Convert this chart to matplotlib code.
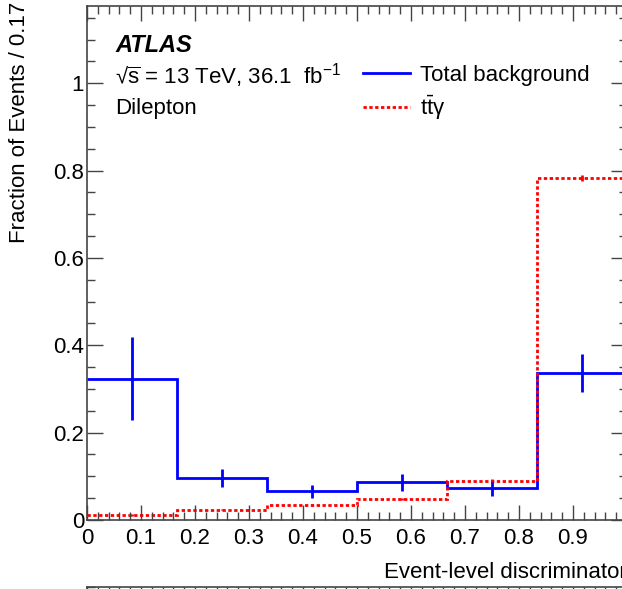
import numpy as np
import matplotlib
matplotlib.use("Agg")
import matplotlib.pyplot as plt
from matplotlib.ticker import MultipleLocator, FixedLocator, FixedFormatter

# ---- data ----
edges = np.linspace(0, 1, 7)
bkg = [0.324, 0.096, 0.066, 0.086, 0.073, 0.336]
bkg_err = [0.094, 0.020, 0.015, 0.020, 0.018, 0.044]
sig = [0.012, 0.024, 0.034, 0.048, 0.090, 0.783]
sig_err = [0.002, 0.002, 0.002, 0.003, 0.004, 0.006]
xticks = [0, 0.1, 0.2, 0.3, 0.4, 0.5, 0.6, 0.7, 0.8, 0.9]
xticklabels = ["0", "0.1", "0.2", "0.3", "0.4", "0.5", "0.6", "0.7", "0.8", "0.9"]
yticks = [0, 0.2, 0.4, 0.6, 0.8, 1.0]
yticklabels = ["0", "0.2", "0.4", "0.6", "0.8", "1"]

plt.rcParams["font.family"] = ["Liberation Sans", "DejaVu Sans"]
plt.rcParams["mathtext.fontset"] = "custom"
plt.rcParams["mathtext.rm"] = "Liberation Sans"
plt.rcParams["mathtext.it"] = "Liberation Sans:italic"
plt.rcParams["mathtext.bf"] = "Liberation Sans:bold"

W, H = 622, 589
fs = 16


def fx(x):
    return x / W


def fy(y):
    return 1 - y / H


fig = plt.figure(figsize=(W / 100, H / 100), dpi=100)
ax = fig.add_axes([fx(87), fy(520), (627 - 87) / W, (520 - 6) / H])

centers = 0.5 * (edges[:-1] + edges[1:])
ax.stairs(bkg, edges, color="#0000ff", linewidth=2.0, baseline=None, label="Total background")
ax.errorbar(centers, bkg, yerr=bkg_err, fmt="none", ecolor="#0000ff", elinewidth=2.0)
ax.stairs(sig, edges, color="#ff0000", linewidth=2.0, linestyle=(0, (1.2, 0.9)),
          baseline=None, label=r"$\mathrm{t\bar{t}\gamma}$")
ax.errorbar(centers, sig, yerr=sig_err, fmt="none", ecolor="#ff0000", elinewidth=2.0)

ax.set_xlim(0, 1)
ax.set_ylim(0, 1.177)

ax.xaxis.set_major_locator(FixedLocator(xticks))
ax.xaxis.set_major_formatter(FixedFormatter(xticklabels))
ax.xaxis.set_minor_locator(MultipleLocator(0.02))
ax.yaxis.set_major_locator(FixedLocator(yticks))
ax.yaxis.set_major_formatter(FixedFormatter(yticklabels))
ax.yaxis.set_minor_locator(MultipleLocator(0.05))

tc = "#444444"
ax.tick_params(which="both", direction="in", top=True, right=True, colors=tc,
               labelcolor="black", labelsize=fs, width=1.0)
ax.tick_params(axis="x", which="major", length=11, pad=6)
ax.tick_params(axis="x", which="minor", length=5.8)
ax.tick_params(axis="y", which="major", length=11.5, pad=2)
ax.tick_params(axis="y", which="minor", length=5.8)
for s in ax.spines.values():
    s.set_color(tc)
    s.set_linewidth(1.2)

fig.text(fx(20), fy(2), "Fraction of Events / 0.17", rotation=90, ha="center", va="top", fontsize=fs)
fig.text(fx(627), fy(578), "Event-level discriminator", ha="right", va="baseline", fontsize=fs)

fig.text(fx(115), fy(52), "ATLAS", fontsize=fs + 1, fontweight="bold", fontstyle="italic", va="baseline")
fig.text(fx(115), fy(84), "\u221a$\\overline{\\mathrm{s}}$ = 13 TeV, 36.1  fb$^{-1}$",
         fontsize=fs, va="baseline")
fig.text(fx(115), fy(114), "Dilepton", fontsize=fs, va="baseline")

ax.legend(loc="upper left", bbox_to_anchor=(fx(363), fy(65)), bbox_transform=fig.transFigure,
          frameon=False, fontsize=fs, handlelength=2.1, handletextpad=0.45,
          borderpad=0, borderaxespad=0, labelspacing=0.35)

# top of the lower panel, mostly outside the picture
ax2 = fig.add_axes([fx(87), fy(587) - 0.3, (627 - 87) / W, 0.3])
ax2.set_xlim(0, 1)
ax2.xaxis.set_major_locator(MultipleLocator(0.1))
ax2.xaxis.set_minor_locator(MultipleLocator(0.02))
ax2.tick_params(which="both", direction="in", top=True, labelbottom=False, labelleft=False,
                colors=tc, width=1.0)
ax2.tick_params(which="major", length=6)
ax2.tick_params(which="minor", length=3)
for s in ax2.spines.values():
    s.set_color(tc)
    s.set_linewidth(1.2)

fig.savefig("out.png", dpi=100)
